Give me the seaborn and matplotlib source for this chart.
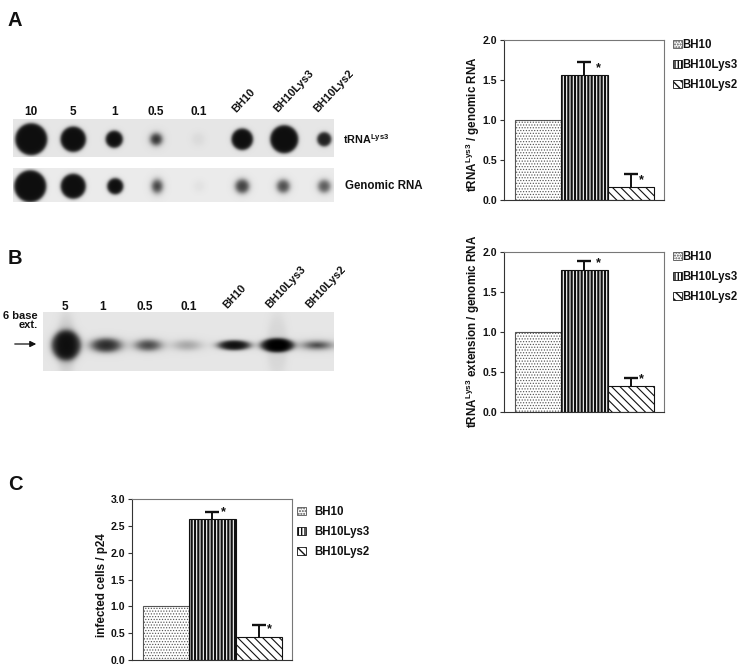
import numpy as np
import pandas as pd
import seaborn as sns
from matplotlib import pyplot as plt
from matplotlib.patches import Patch

strains = ['BH10', 'BH10Lys3', 'BH10Lys2']

ratio_a = [1.0, 1.56, 0.16]
err_a = [0, 0.16, 0.16]
ratio_b = [1.0, 1.78, 0.33]
err_b = [0, 0.11, 0.09]
ratio_c = [1.0, 2.63, 0.42]
err_c = [0, 0.13, 0.24]

ticks_ab = [0.0, 0.5, 1.0, 1.5, 2.0]
ticks_c = [0.0, 0.5, 1.0, 1.5, 2.0, 2.5, 3.0]

lanes_a = ['10', '5', '1', '0.5', '0.1']
lanes_b = ['5', '1', '0.5', '0.1']

# dot blot / gel: (centre x, radius x, radius y, darkness), one list per strip
trna_spots = [(31, 16, 16, 1), (73, 12.7, 12.7, 1), (114, 8.5, 8.5, 1), (156, 5.5, 5.5, .85),
              (198, 6, 6, .05), (242, 10.7, 10.7, 1), (284, 14, 14, 1), (324, 7, 7, .92)]
genomic_spots = [(30, 16, 16, 1), (73, 12.5, 12.5, 1), (115, 8, 8, 1), (157, 5, 6, .78),
                 (199, 5, 5, .04), (242, 6.5, 6.5, .78), (283, 6, 6, .72), (324, 5.8, 5.8, .66)]
gel_bands = [(66, 9, 30, .12), (277, 10, 30, .07),
             (66, 14.5, 15, .88), (106, 14, 6.5, .88), (148, 11.5, 5, .75), (187, 12, 4.5, .3),
             (234, 15.5, 4.8, 1), (277, 16.5, 7, 1), (317, 11.5, 3.4, .8)]

sns.set_theme(style='white')
plt.rcParams['font.family'] = ['Liberation Sans', 'DejaVu Sans']
plt.rcParams['font.weight'] = 'bold'
plt.rcParams['mathtext.fontset'] = 'custom'
plt.rcParams['mathtext.bf'] = 'Liberation Sans:bold'
plt.rcParams['mathtext.rm'] = 'Liberation Sans:bold'

W, H = 742, 668
fig = plt.figure(figsize=(W / 100, H / 100), dpi=100, facecolor='white')

hatches = ['......', '|||||', '\\\\\\\\']


def box(left, top, right, bottom):
    return [left / W, 1 - bottom / H, (right - left) / W, (bottom - top) / H]


def style_patch(p, i):
    p.set_hatch(hatches[i])
    p.set_hatch_linewidth([0.55, 1.6, 0.8][i])
    p.set_edgecolor('#111111' if i else '#555555')


def bar_panel(pos, values, errors, ticks, top, label, label_x, leg_xy, leg_pad, star_xy):
    ax = fig.add_axes(box(*pos))
    df = pd.DataFrame({'strain': strains, 'value': values})
    sns.barplot(data=df, x='strain', y='value', hue='strain', palette=['white'] * 3,
                width=1, dodge=False, legend=False, linewidth=0.8, edgecolor='#111111', ax=ax)
    for i, p in enumerate(ax.patches):
        style_patch(p, i)
    eb = ax.errorbar([1, 2], values[1:], yerr=[[0, 0], errors[1:]], fmt='none', ecolor='#111111',
                     elinewidth=1.4, capsize=5.2, capthick=1.7)
    eb.lines[1][0].set_visible(False)
    for i, off in zip([1, 2], star_xy):
        ax.annotate('*', (i, values[i] + errors[i]), xytext=off,
                    textcoords='offset points', fontsize=9, ha='center', va='center', color='#111111')
    ax.set_xlim(-0.74, 2.72)
    ax.set_ylim(0, top)
    ax.set_xticks([])
    ax.set_yticks(ticks, [f'{t:.1f}' for t in ticks], fontsize=7.6, color='#111111')
    ax.tick_params(axis='y', length=3, width=0.8, left=True, pad=2, color='#333333')
    ax.set_xlabel('')
    ax.set_ylabel('')
    ax.spines['left'].set_color('#333333')
    ax.spines['bottom'].set_color('#333333')
    ax.spines['top'].set_color('#777777')
    ax.spines['right'].set_color('#777777')
    for s in ax.spines.values():
        s.set_linewidth(0.8)
    handles = []
    for i, name in enumerate(strains):
        h = Patch(facecolor='white', edgecolor='#111111', linewidth=0.6, label=name)
        style_patch(h, i)
        handles.append(h)
    # legend anchored in figure pixels
    leg = ax.legend(handles=handles, loc='upper left', frameon=False, fontsize=8.3,
                    bbox_to_anchor=(leg_xy[0] / W, 1 - leg_xy[1] / H), bbox_transform=fig.transFigure,
                    handlelength=0.75, handleheight=0.75, handletextpad=leg_pad,
                    labelspacing=0.7, borderpad=0, borderaxespad=0)
    for t in leg.get_texts():
        t.set_color('#111111')
    over.text(label_x, (pos[1] + pos[3]) / 2 + label[1], label[0], rotation=90, fontsize=8.35,
              ha='center', va='center', color='#111111')


def strip(left, top, right, bottom, spots, cy, bg=0.9):
    xs = np.arange(left, right, 0.5)
    ys = np.arange(top, bottom, 0.5)
    xx, yy = np.meshgrid(xs, ys)
    img = np.full(xx.shape, bg)
    for x0, rx, ry, dark in spots:
        r = np.sqrt(((xx - x0) / rx) ** 2 + ((yy - cy) / ry) ** 2)
        edge = 1 / (1 + np.exp((r - 1) * min(rx, ry) / (0.9 if dark > .9 else 1.6)))
        img = img - edge * dark * (bg - 0.06)
    over.imshow(np.clip(img, 0, 1), extent=(left, right, bottom, top), cmap='gray', vmin=0, vmax=1,
                aspect='auto', interpolation='bilinear')


over = fig.add_axes([0, 0, 1, 1], zorder=5)
over.patch.set_alpha(0)

strip(13, 119, 334, 157, trna_spots, 139)
strip(13, 168, 334, 202, genomic_spots, 186, bg=0.92)
strip(43, 312, 334, 371, gel_bands, 345, bg=0.9)

over.set_xlim(0, W)
over.set_ylim(H, 0)
over.axis('off')

for txt, y in [('A', 20), ('B', 259), ('C', 484)]:
    over.text(8, y, txt, fontsize=14.5, ha='left', va='center', color='#111111')

for name, x in zip(lanes_a, [31, 73, 115, 156, 199]):
    over.text(x, 112, name, fontsize=8.5, ha='center', va='center', color='#111111')
for name, x in zip(lanes_b, [65, 103, 145, 189]):
    over.text(x, 307, name, fontsize=8.5, ha='center', va='center', color='#111111')
for name, x in zip(strains, [238, 279, 319]):
    over.text(x, 114, name, fontsize=8, rotation=47, ha='left', va='bottom', rotation_mode='anchor', color='#111111')
for name, x in zip(strains, [229, 271, 311]):
    over.text(x, 310, name, fontsize=8, rotation=47, ha='left', va='bottom', rotation_mode='anchor', color='#111111')

over.text(343, 139, r'tRNA$\mathbf{^{Lys3}}$', fontsize=7.8, ha='left', va='center', color='#111111')
over.text(345, 186, 'Genomic RNA', fontsize=8.3, ha='left', va='center', color='#111111')
over.text(38, 316, '6 base', fontsize=8, ha='right', va='center', color='#111111')
over.text(38, 325, 'ext.', fontsize=8, ha='right', va='center', color='#111111')
over.annotate('', xy=(39, 344), xytext=(12, 344),
              arrowprops=dict(arrowstyle='-|>', color='#111111', lw=0.9, mutation_scale=9))

bar_panel((504, 39.5, 664, 200), ratio_a, err_a, ticks_ab, 2.0,
          (r'tRNA$\mathbf{^{Lys3}}$ / genomic RNA', 4), 473, (673, 39), 0.05, [(9.7, -4.3), (8, -4.3)])
bar_panel((504, 252, 664, 412), ratio_b, err_b, ticks_ab, 2.0,
          (r'tRNA$\mathbf{^{Lys3}}$ extension / genomic RNA', -1), 473, (673, 251), 0.05, [(9.7, -1.5), (8, -0.7)])
bar_panel((132, 499, 292, 660), ratio_c, err_c, ticks_c, 3.0,
          ('infected cells / p24', 5.5), 102, (297, 506), 0.78, [(8, 0), (8, -3.6)])

fig.savefig('out.png', dpi=100)
